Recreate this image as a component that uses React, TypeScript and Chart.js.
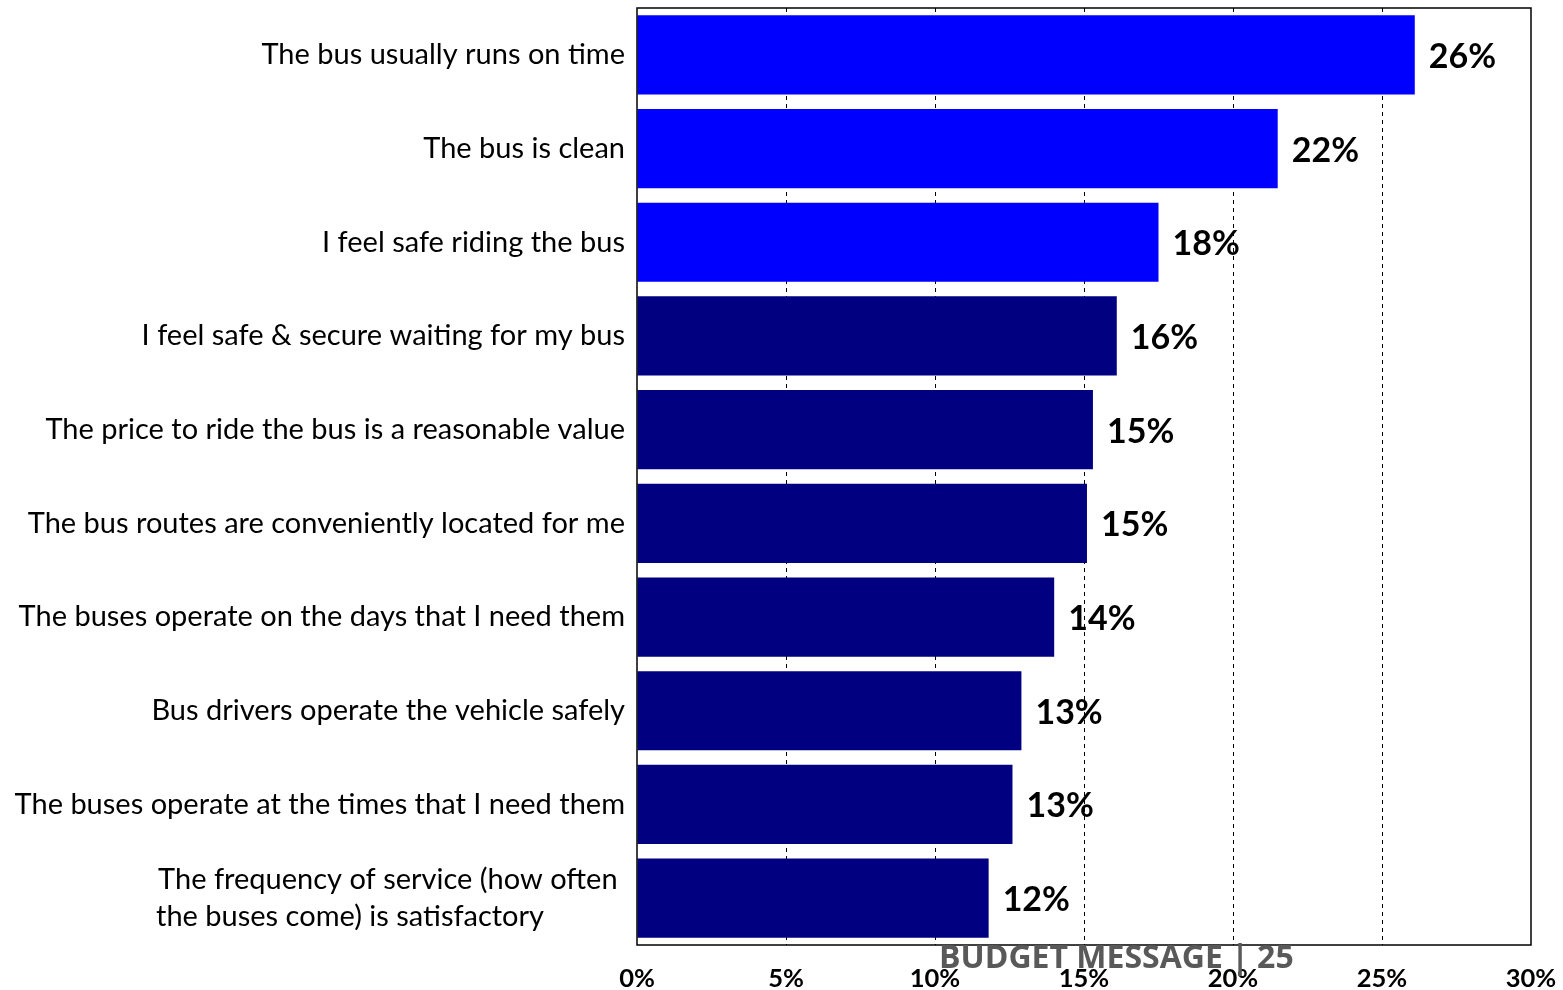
import React, { useEffect, useRef } from "react";
import { Chart, registerables } from "chart.js";

Chart.register(...registerables);

const NB = "\u00A0";

const categories: (string | string[])[] = [
  "The bus usually runs on time",
  "The bus is clean",
  "I feel safe riding the bus",
  "I feel safe & secure waiting for my bus",
  "The price to ride the bus is a reasonable value",
  "The bus routes are conveniently located for me",
  "The buses operate on the days that I need them",
  "Bus drivers operate the vehicle safely",
  "The buses operate at the times that I need them",
  ["The frequency of service (how often" + NB, "the buses come) is satisfactory" + NB.repeat(11)],
];

const values = [26.1, 21.5, 17.5, 16.1, 15.3, 15.1, 14.0, 12.9, 12.6, 11.8];
const valueLabels = ["26%", "22%", "18%", "16%", "15%", "15%", "14%", "13%", "13%", "12%"];
const barColors = [
  "#0000FF", "#0000FF", "#0000FF",
  "#000080", "#000080", "#000080", "#000080", "#000080", "#000080", "#000080",
];
const xTicks = [0, 5, 10, 15, 20, 25, 30];

const FONT = "Lato, 'Open Sans', sans-serif";

const valueLabelPlugin = {
  id: "valueLabels",
  afterDatasetsDraw(chart: any) {
    const ctx = chart.ctx;
    const meta = chart.getDatasetMeta(0);
    ctx.save();
    ctx.font = `bold 34px ${FONT}`;
    ctx.fillStyle = "#000000";
    ctx.textAlign = "left";
    ctx.textBaseline = "middle";
    meta.data.forEach((bar: any, i: number) => {
      ctx.fillText(valueLabels[i], bar.x + 14, bar.y + 2);
    });
    ctx.restore();
  },
};

const frameBorderPlugin = {
  id: "frameBorder",
  afterDatasetsDraw(chart: any) {
    const { ctx, chartArea } = chart;
    ctx.save();
    ctx.strokeStyle = "#000000";
    ctx.lineWidth = 1.5;
    ctx.strokeRect(chartArea.left, chartArea.top, chartArea.right - chartArea.left, chartArea.bottom - chartArea.top);
    ctx.restore();
  },
};

export default function App() {
  const canvasRef = useRef<HTMLCanvasElement | null>(null);

  useEffect(() => {
    if (!canvasRef.current) return;
    const chart = new Chart(canvasRef.current, {
      type: "bar",
      data: {
        labels: categories,
        datasets: [
          {
            data: values,
            backgroundColor: barColors,
            borderWidth: 0,
            categoryPercentage: 1,
            barPercentage: 0.845,
          },
        ],
      },
      options: {
        indexAxis: "y",
        animation: false,
        responsive: false,
        maintainAspectRatio: false,
        layout: { padding: { top: 8, right: 32, bottom: 0, left: 0 } },
        plugins: {
          legend: { display: false },
          tooltip: { enabled: false },
        },
        scales: {
          x: {
            min: 0,
            max: 30,
            afterBuildTicks: (scale: any) => {
              scale.ticks = xTicks.map((v) => ({ value: v }));
            },
            afterFit: (scale: any) => {
              scale.height = 990 - 945;
              scale.paddingLeft = 0;
              scale.paddingRight = 0;
            },
            ticks: {
              padding: 18,
              color: "#000000",
              font: { family: FONT, size: 25.5, weight: "bold" },
              callback: (v: any) => `${v}%`,
            },
            grid: {
              drawTicks: false,
              color: (c: any) => (c.tick && (c.tick.value === 0 || c.tick.value === 30) ? "rgba(0,0,0,0)" : "#000000"),
              lineWidth: 1,
            },
            border: { display: false, dash: [4, 4] },
          },
          y: {
            afterFit: (scale: any) => {
              scale.width = 637;
              scale.paddingTop = 0;
              scale.paddingBottom = 0;
            },
            ticks: {
              padding: 12,
              color: "#000000",
              font: { family: FONT, size: 29, lineHeight: 1.28 },
            },
            grid: { display: false, drawTicks: false },
            border: { display: false },
          },
        },
      },
      plugins: [valueLabelPlugin, frameBorderPlugin],
    });
    return () => chart.destroy();
  }, []);

  return (
    <div style={{ position: "absolute", left: 0, top: 0, width: 1563, height: 990, background: "#ffffff" }}>
      <canvas ref={canvasRef} width={1563} height={990} style={{ display: "block" }} />
      <div
        style={{
          position: "absolute",
          left: 939,
          top: 934,
          fontFamily: "'Open Sans', sans-serif",
          fontWeight: 700,
          fontSize: 32,
          lineHeight: "44px",
          color: "#595959",
          whiteSpace: "nowrap",
        }}
      >
        BUDGET MESSAGE | 25
      </div>
    </div>
  );
}
